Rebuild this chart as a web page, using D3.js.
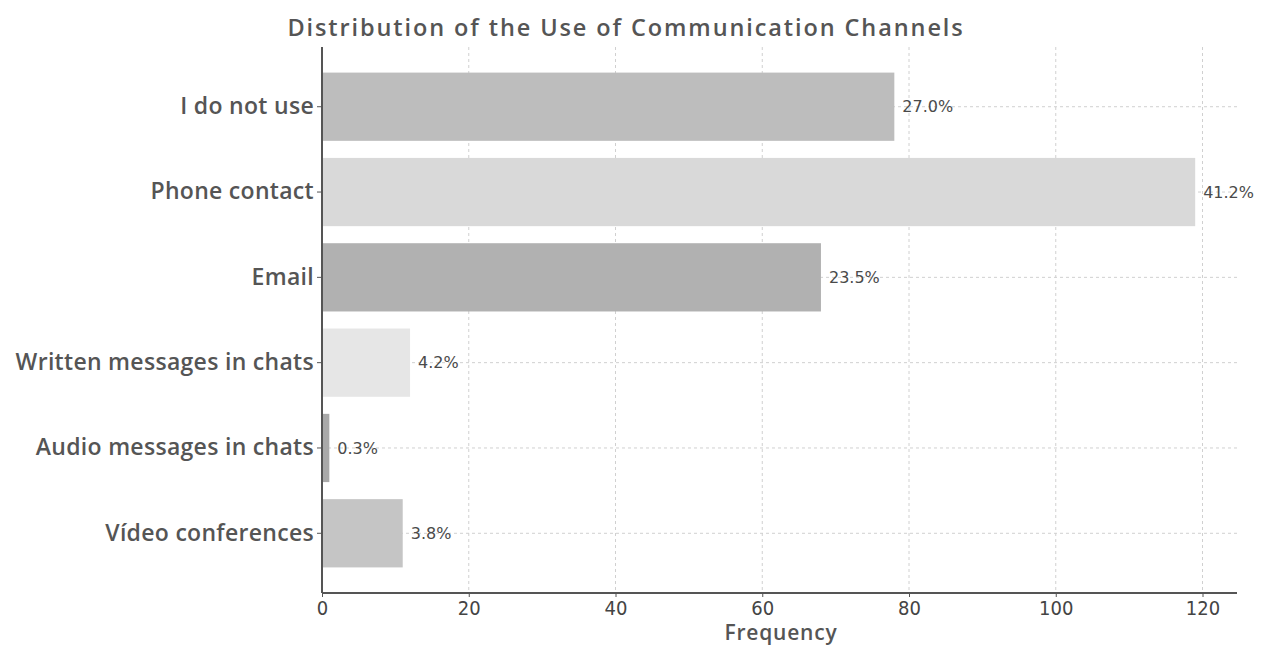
<!DOCTYPE html>
<html>
<head>
<meta charset="utf-8">
<script src="https://cdn.jsdelivr.net/npm/d3@7"></script>
<style>
  body { margin: 0; background: #fff; }
  svg { display: block; }
</style>
</head>
<body>
<script>
const categories = ["I do not use", "Phone contact", "Email",
                    "Written messages in chats", "Audio messages in chats", "Vídeo conferences"];
const counts = [78, 119, 68, 12, 1, 11];
const barColors = ["#bdbdbd", "#d9d9d9", "#b1b1b1", "#e6e6e6", "#a9a9a9", "#c5c5c5"];
const xTicks = [0, 20, 40, 60, 80, 100, 120];

const width = 1262, height = 645;
const margin = {top: 47, right: 25, bottom: 52, left: 322};
const total = d3.sum(counts);

const svg = d3.select("body").append("svg")
    .attr("width", width)
    .attr("height", height);

const x = d3.scaleLinear()
    .domain([0, 124.7])
    .range([margin.left, width - margin.right]);

// bar height 0.8 of a step, like matplotlib barh with small y margins
const y = d3.scaleBand()
    .domain(categories)
    .range([margin.top, height - margin.bottom])
    .paddingInner(0.2)
    .paddingOuter(0.3);

// grid
const grid = svg.append("g");
grid.selectAll(".vgrid")
    .data(xTicks.slice(1))
    .join("line")
    .attr("x1", d => x(d)).attr("x2", d => x(d))
    .attr("y1", margin.top).attr("y2", height - margin.bottom)
    .attr("stroke", "#d0d0d0").attr("stroke-width", 1)
    .attr("stroke-dasharray", "3,3");
grid.selectAll(".hgrid")
    .data(categories)
    .join("line")
    .attr("x1", margin.left).attr("x2", width - margin.right)
    .attr("y1", d => y(d) + y.bandwidth() / 2)
    .attr("y2", d => y(d) + y.bandwidth() / 2)
    .attr("stroke", "#d0d0d0").attr("stroke-width", 1)
    .attr("stroke-dasharray", "3,3");

// bars
svg.append("g").selectAll("rect")
    .data(categories)
    .join("rect")
    .attr("x", x(0))
    .attr("y", d => y(d))
    .attr("width", (d, i) => x(counts[i]) - x(0))
    .attr("height", y.bandwidth())
    .attr("fill", (d, i) => barColors[i]);

// percent labels
svg.append("g").selectAll("text")
    .data(categories)
    .join("text")
    .attr("x", (d, i) => x(counts[i]) + 8)
    .attr("y", d => y(d) + y.bandwidth() / 2)
    .attr("dy", "0.35em")
    .attr("font-family", "'DejaVu Sans', sans-serif")
    .attr("font-size", 16)
    .attr("fill", "#4a4a4a")
    .text((d, i) => (counts[i] / total * 100).toFixed(1) + "%");

// axes
const yAxis = svg.append("g")
    .attr("transform", `translate(${margin.left},0)`)
    .call(d3.axisLeft(y).tickSize(5).tickPadding(3));
yAxis.select(".domain").attr("stroke", "#555").attr("stroke-width", 2)
    .attr("d", `M0,${margin.top}V${height - margin.bottom}`);
yAxis.selectAll(".tick line").attr("stroke", "#555");
yAxis.selectAll(".tick text")
    .attr("font-family", "'Open Sans', sans-serif")
    .attr("font-size", 23)
    .attr("font-weight", 600)
    .attr("letter-spacing", 0.3)
    .attr("fill", "#555");

const xAxis = svg.append("g")
    .attr("transform", `translate(0,${height - margin.bottom})`)
    .call(d3.axisBottom(x).tickValues(xTicks).tickSize(4).tickPadding(4));
xAxis.select(".domain").attr("stroke", "#555").attr("stroke-width", 2)
    .attr("d", `M${margin.left},0H${width - margin.right}`);
xAxis.selectAll(".tick line").attr("stroke", "#555");
xAxis.selectAll(".tick text")
    .attr("font-family", "'DejaVu Sans Condensed', 'DejaVu Sans', sans-serif")
    .attr("font-stretch", "condensed")
    .attr("font-size", 20)
    .attr("fill", "#444");

// axis title
svg.append("text")
    .attr("x", 781)
    .attr("y", 640)
    .attr("text-anchor", "middle")
    .attr("font-family", "'Open Sans', sans-serif")
    .attr("font-size", 21)
    .attr("font-weight", 600)
    .attr("letter-spacing", 0.8)
    .attr("fill", "#555")
    .text("Frequency");

// chart title
svg.append("text")
    .attr("x", 626)
    .attr("y", 36)
    .attr("text-anchor", "middle")
    .attr("font-family", "'Open Sans', sans-serif")
    .attr("font-size", 23.5)
    .attr("font-weight", 600)
    .attr("letter-spacing", 1.9)
    .attr("fill", "#555")
    .text("Distribution of the Use of Communication Channels");
</script>
</body>
</html>
